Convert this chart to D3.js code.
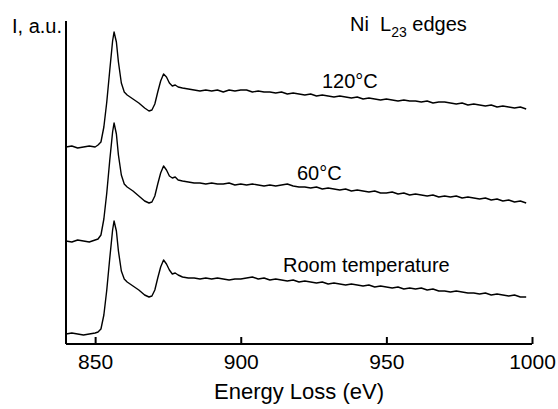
<!DOCTYPE html>
<html>
<head>
<meta charset="utf-8">
<script src="https://cdn.jsdelivr.net/npm/d3@7"></script>
<style>
  body { margin: 0; background: #fff; }
  text { font-family: "Liberation Sans", Arial, sans-serif; fill: #000; }
</style>
</head>
<body>
<script>
// energy grid (eV), dense around the L3 / L2 edges
var energies = [840, 842, 844, 846, 848, 850, 851, 852, 853, 854, 855, 856, 856.5, 857.3, 858, 859, 860, 861, 863, 865, 867, 868.5, 869.5, 870.5, 871.5, 872.5, 873.5, 874.5, 875.5, 876.5, 877.5, 878.5, 880,
  882, 884, 886, 888, 890, 892, 894, 896, 898, 900, 902, 904, 906, 908, 910, 912, 914, 916, 918, 920, 922, 924, 926, 928, 930, 932, 934, 936, 938, 940,
  942, 944, 946, 948, 950, 952, 954, 956, 958, 960, 962, 964, 966, 968, 970, 972, 974, 976, 978, 980, 982, 984, 986, 988, 990, 992, 994, 996, 998];

// intensities (a.u.), each above its own pre-edge background
var spec120 = [0.00, 0.01, -0.01, 0.00, 0.01, 0.00, 0.02, 0.05, 0.20, 0.45, 0.76, 1.06, 1.15, 1.05, 0.85, 0.64, 0.55, 0.52, 0.48, 0.44, 0.39, 0.36, 0.37, 0.43, 0.55, 0.66, 0.73, 0.70, 0.64, 0.61, 0.62, 0.60, 0.59,
  .58, .57, .56, .57, .56, .57, .55, .57, .56, .57, .57, .55, .56, .55, .55, .54, .55, .53, .54, .53, .52, .53, .51, .52,
  .51, .50, .51, .50, .49, .50, .48, .49, .48, .47, .48, .47, .46, .47, .46, .46, .45, .46, .44, .45,
  .45, .44, .43, .44, .42, .43, .42, .41, .42, .40, .41, .40, .39, .40, .38];

var spec60 = [0.00, -0.01, 0.01, 0.00, -0.01, 0.01, 0.02, 0.06, 0.22, 0.48, 0.80, 1.09, 1.18, 1.07, 0.86, 0.66, 0.57, 0.54, 0.50, 0.45, 0.40, 0.38, 0.39, 0.45, 0.57, 0.68, 0.75, 0.71, 0.65, 0.63, 0.64, 0.61, 0.60,
  .59, .58, .58, .57, .58, .57, .57, .58, .56, .57, .56, .57, .56, .55, .56, .55, .56, .57, .55, .54, .54, .53, .54, .52,
  .53, .52, .51, .52, .50, .51, .50, .49, .50, .48, .48, .49, .47, .48, .46, .47, .46, .45, .46, .44,
  .45, .44, .45, .43, .44, .43, .42, .43, .41, .42, .40, .41, .39, .40, .38];

var specRT = [0.00, 0.01, 0.00, -0.01, 0.00, 0.01, 0.02, 0.05, 0.19, 0.44, 0.75, 1.04, 1.13, 1.03, 0.83, 0.63, 0.55, 0.52, 0.48, 0.44, 0.39, 0.37, 0.38, 0.44, 0.56, 0.67, 0.74, 0.70, 0.64, 0.60, 0.61, 0.59, 0.57,
  .56, .56, .55, .56, .55, .56, .55, .54, .55, .55, .56, .57, .55, .56, .54, .55, .54, .53, .54, .52, .53, .52, .51, .52,
  .50, .51, .50, .49, .50, .49, .48, .49, .47, .48, .47, .46, .47, .45, .46, .45, .46, .44, .45, .43,
  .43, .42, .43, .42, .41, .41, .40, .41, .39, .40, .39, .38, .39, .37, .37];

var seriesNames = ["120°C", "60°C", "Room temperature"];
var offsets = [1.97, 1.03, 0.10];   // vertical stacking of the spectra
var xTicks = [850, 900, 950, 1000];

var width = 558, height = 409;
var margin = {top: 21, right: 26, bottom: 65, left: 66};

var x = d3.scaleLinear()
    .domain([840, 1000])
    .range([margin.left, width - margin.right]);

var y = d3.scaleLinear()
    .domain([0, 3.23])
    .range([height - margin.bottom, margin.top]);

var svg = d3.select("body").append("svg")
    .attr("width", width)
    .attr("height", height);

var allSpectra = [spec120, spec60, specRT];

var line = d3.line()
    .x(function(d) { return x(d[0]); })
    .y(function(d) { return y(d[1]); });

allSpectra.forEach(function(s, k) {
  var pts = energies.map(function(e, i) { return [e, s[i] + offsets[k]]; })
    .filter(function(p) { return !isNaN(p[1]); });
  svg.append("path")
      .datum(pts)
      .attr("fill", "none")
      .attr("stroke", "#000")
      .attr("stroke-width", 1.4)
      .attr("stroke-linejoin", "round")
      .attr("d", line);
});

// x axis, ticks point inward
var xAxis = svg.append("g")
    .attr("transform", "translate(0," + y(0) + ")")
    .call(d3.axisBottom(x).tickValues(xTicks).tickFormat(d3.format("d"))
      .tickSizeInner(-7).tickSizeOuter(0).tickPadding(10));
xAxis.select(".domain").attr("stroke-width", 2).attr("d", "M" + x(840) + ",0H" + x(1000));
xAxis.selectAll(".tick line").attr("stroke-width", 2);
xAxis.selectAll(".tick text")
    .attr("font-size", 21)
    .attr("font-family", "Liberation Sans, Arial, sans-serif");

// y axis: plain line, no ticks
svg.append("line")
    .attr("x1", x(840)).attr("x2", x(840))
    .attr("y1", y(3.23)).attr("y2", y(0))
    .attr("stroke", "#000")
    .attr("stroke-width", 2);

svg.append("text")
    .attr("x", (x(840) + x(1000)) / 2)
    .attr("y", 399)
    .attr("text-anchor", "middle")
    .attr("font-size", 22)
    .text("Energy Loss (eV)");

svg.append("text")
    .attr("x", x(840) - 4)
    .attr("y", 33)
    .attr("text-anchor", "end")
    .attr("font-size", 20)
    .text("I, a.u.");

var title = svg.append("text")
    .attr("x", 350)
    .attr("y", 31)
    .attr("font-size", 20)
    .style("white-space", "pre");
title.append("tspan").text("Ni  L");
title.append("tspan").attr("font-size", 14).attr("dy", 6).text("23");
title.append("tspan").attr("dy", -6).text(" edges");

// curve labels
var labelPos = [[322, 88], [297, 180], [283, 272]];
svg.selectAll(".lbl")
    .data(seriesNames)
  .enter().append("text")
    .attr("class", "lbl")
    .attr("x", function(d, i) { return labelPos[i][0]; })
    .attr("y", function(d, i) { return labelPos[i][1]; })
    .attr("font-size", 20)
    .text(function(d) { return d; });
</script>
</body>
</html>
